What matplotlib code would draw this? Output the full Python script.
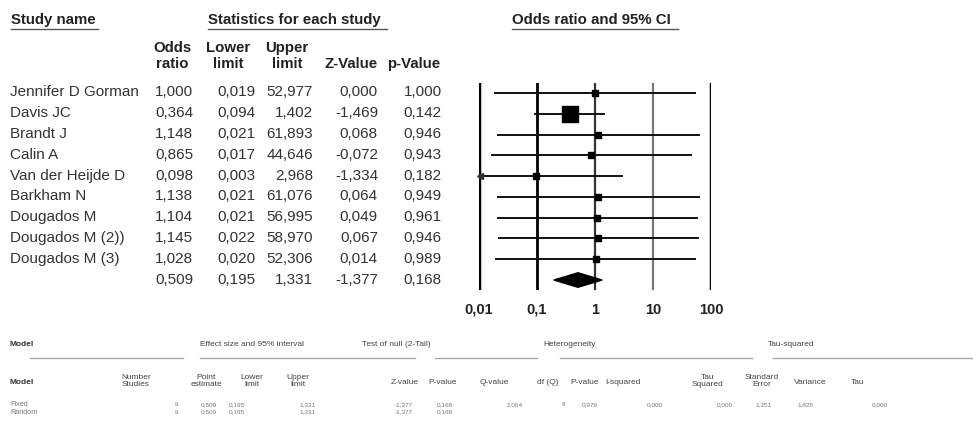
import numpy as np
import matplotlib
matplotlib.use('Agg')
import matplotlib.pyplot as plt

plt.rcParams['font.family'] = ['Liberation Sans', 'DejaVu Sans']

# study level data
studies = ['Jennifer D Gorman', 'Davis JC', 'Brandt J', 'Calin A', 'Van der Heijde D',
           'Barkham N', 'Dougados M', 'Dougados M (2))', 'Dougados M (3)']
odds_ratio = [1.000, 0.364, 1.148, 0.865, 0.098, 1.138, 1.104, 1.145, 1.028]
lower = [0.019, 0.094, 0.021, 0.017, 0.003, 0.021, 0.021, 0.022, 0.020]
upper = [52.977, 1.402, 61.893, 44.646, 2.968, 61.076, 56.995, 58.970, 52.306]
z_value = [0.000, -1.469, 0.068, -0.072, -1.334, 0.064, 0.049, 0.067, 0.014]
p_value = [1.000, 0.142, 0.946, 0.943, 0.182, 0.949, 0.961, 0.946, 0.989]

# summary (fixed effect)
sum_or, sum_lo, sum_hi, sum_z, sum_p = 0.509, 0.195, 1.331, -1.377, 0.168

ticks = [0.01, 0.1, 1, 10, 100]
tick_labels = ['0,01', '0,1', '1', '10', '100']

# bottom model table
models = ['Fixed', 'Random']
n_studies = [9, 9]
point_est = [0.509, 0.509]
lo_lim = [0.195, 0.195]
up_lim = [1.331, 1.331]
z_mod = [-1.377, -1.377]
p_mod = [0.168, 0.168]
q_value, df_q, p_het, i_sq = 2.064, 8, 0.979, 0.000
tau_sq, tau_se, tau_var, tau = 0.000, 1.351, 1.825, 0.000


def fmt(v):
    return f'{v:.3f}'.replace('.', ',')


fig = plt.figure(figsize=(9.73, 4.41), dpi=100)
ax0 = fig.add_axes([0, 0, 1, 1])
ax0.set_xlim(0, 973)
ax0.set_ylim(441, 0)
ax0.axis('off')

# top headers
fs = 11
hfs = 10.8
for txt, x0, x1 in [('Study name', 11, 98), ('Statistics for each study', 208, 387),
                    ('Odds ratio and 95% CI', 512, 678)]:
    ax0.text(x0, 20, txt, fontsize=hfs, fontweight='bold', va='center', ha='left', color='#222222')
    ax0.plot([x0, x1], [29, 29], color='#555555', lw=1)

for top, bottom, xc in [('Odds', 'ratio', 172), ('Lower', 'limit', 228), ('Upper', 'limit', 287),
                        ('', 'Z-Value', 351), ('', 'p-Value', 414)]:
    if top:
        ax0.text(xc, 48, top, fontsize=hfs, fontweight='bold', ha='center', va='center', color='#222222')
    ax0.text(xc, 64, bottom, fontsize=hfs, fontweight='bold', ha='center', va='center', color='#222222')

row_y0, row_dy = 92, 20.9
col_right = [193, 255, 313, 378, 442]
for i, name in enumerate(studies):
    y = row_y0 + i * row_dy
    ax0.text(10, y, name, fontsize=fs, va='center', ha='left', color='#333333')
    vals = [odds_ratio[i], lower[i], upper[i], z_value[i], p_value[i]]
    for xr, v in zip(col_right, vals):
        ax0.text(xr, y, fmt(v), fontsize=fs, va='center', ha='right', color='#333333')
y = row_y0 + 9 * row_dy
for xr, v in zip(col_right, [sum_or, sum_lo, sum_hi, sum_z, sum_p]):
    ax0.text(xr, y, fmt(v), fontsize=fs, va='center', ha='right', color='#333333')

# forest plot axes: 0.01 -> px 479, 100 -> px 711, rows from px 83 to 290
left_px, right_px, top_px, bot_px = 479, 711, 83, 290
ax = fig.add_axes([left_px / 973, 1 - bot_px / 441, (right_px - left_px) / 973, (bot_px - top_px) / 441])
ax.set_xscale('log')
ax.set_xlim(0.01, 100)
ax.set_ylim(9.48, -0.48)
ax.patch.set_alpha(0)
for s in ax.spines.values():
    s.set_visible(False)
ax.set_yticks([])
ax.set_xticks(ticks)
ax.set_xticklabels(tick_labels, fontsize=10.5, fontweight='bold', color='#222222')
ax.tick_params(axis='x', length=0, pad=9)
ax.minorticks_off()

line_style = {0.01: ('black', 2.5), 0.1: ('black', 2.0), 1: ('#333333', 1.6),
              10: ('#777777', 1.6), 100: ('black', 2.5)}
for t in ticks:
    c, w = line_style[t]
    ax.axvline(t, color=c, lw=w, zorder=1)

# marker side proportional to sqrt of inverse variance weight
se = (np.log(upper) - np.log(lower)) / 3.92
w = 1 / se ** 2
side = 11.5 * np.sqrt(w / w.max())
for i in range(len(studies)):
    lo = max(lower[i], 0.01)
    ax.plot([lo, upper[i]], [i, i], color='#111111', lw=1.4, zorder=2, clip_on=False)
    if lower[i] < 0.01:
        ax.plot([0.0105], [i], marker='<', ms=4, color='#333333', clip_on=False, zorder=2)
    ax.plot([odds_ratio[i]], [i], marker='s', ms=side[i], color='black', zorder=3, clip_on=False)

ax.fill([sum_lo, sum_or, sum_hi, sum_or], [9, 8.65, 9, 9.35], color='black', zorder=3, clip_on=False)

# bottom table
gray = '#777777'
hdr = '#444444'
bfs = 6.0
sfs = 4.6
ax0.text(10, 345, 'Model', fontsize=bfs, fontweight='bold', va='center', color='#333333')
for txt, xc in [('Effect size and 95% interval', 252), ('Test of null (2-Tail)', 396),
                ('Heterogeneity', 570), ('Tau-squared', 791)]:
    ax0.text(xc, 345, txt, fontsize=bfs, va='center', ha='center', color=hdr)
for x0, x1 in [(30, 183), (200, 415), (435, 537), (560, 752), (773, 972)]:
    ax0.plot([x0, x1], [358, 358], color='#aaaaaa', lw=1)

ax0.text(10, 383, 'Model', fontsize=bfs, fontweight='bold', va='center', color='#333333')
headers = [('Number\nStudies', 136), ('Point\nestimate', 206), ('Lower\nlimit', 252),
           ('Upper\nlimit', 298), ('Z-value', 405), ('P-value', 443), ('Q-value', 494),
           ('df (Q)', 548), ('P-value', 585), ('I-squared', 623), ('Tau\nSquared', 708),
           ('Standard\nError', 762), ('Variance', 810), ('Tau', 858)]
for txt, xc in headers:
    ax0.text(xc, 383 if '\n' not in txt else 381, txt, fontsize=bfs, va='center', ha='center',
             color=hdr, linespacing=0.95)

row_ys = [405, 412]
for j, m in enumerate(models):
    y = row_ys[j]
    ax0.text(10, y, m, fontsize=sfs + 0.6, va='center', color=gray)
    ax0.text(178, y, str(n_studies[j]), fontsize=sfs, va='center', ha='right', color=gray)
    for xr, v in zip([217, 245, 315, 413, 453], [point_est[j], lo_lim[j], up_lim[j], z_mod[j], p_mod[j]]):
        ax0.text(xr, y, fmt(v), fontsize=sfs, va='center', ha='right', color=gray)

y = row_ys[0]
ax0.text(565, y, str(df_q), fontsize=sfs, va='center', ha='right', color=gray)
for xr, v in zip([523, 598, 663, 733, 772, 813, 888], [q_value, p_het, i_sq, tau_sq, tau_se, tau_var, tau]):
    ax0.text(xr, y, fmt(v), fontsize=sfs, va='center', ha='right', color=gray)

fig.savefig('out.png', dpi=100)
